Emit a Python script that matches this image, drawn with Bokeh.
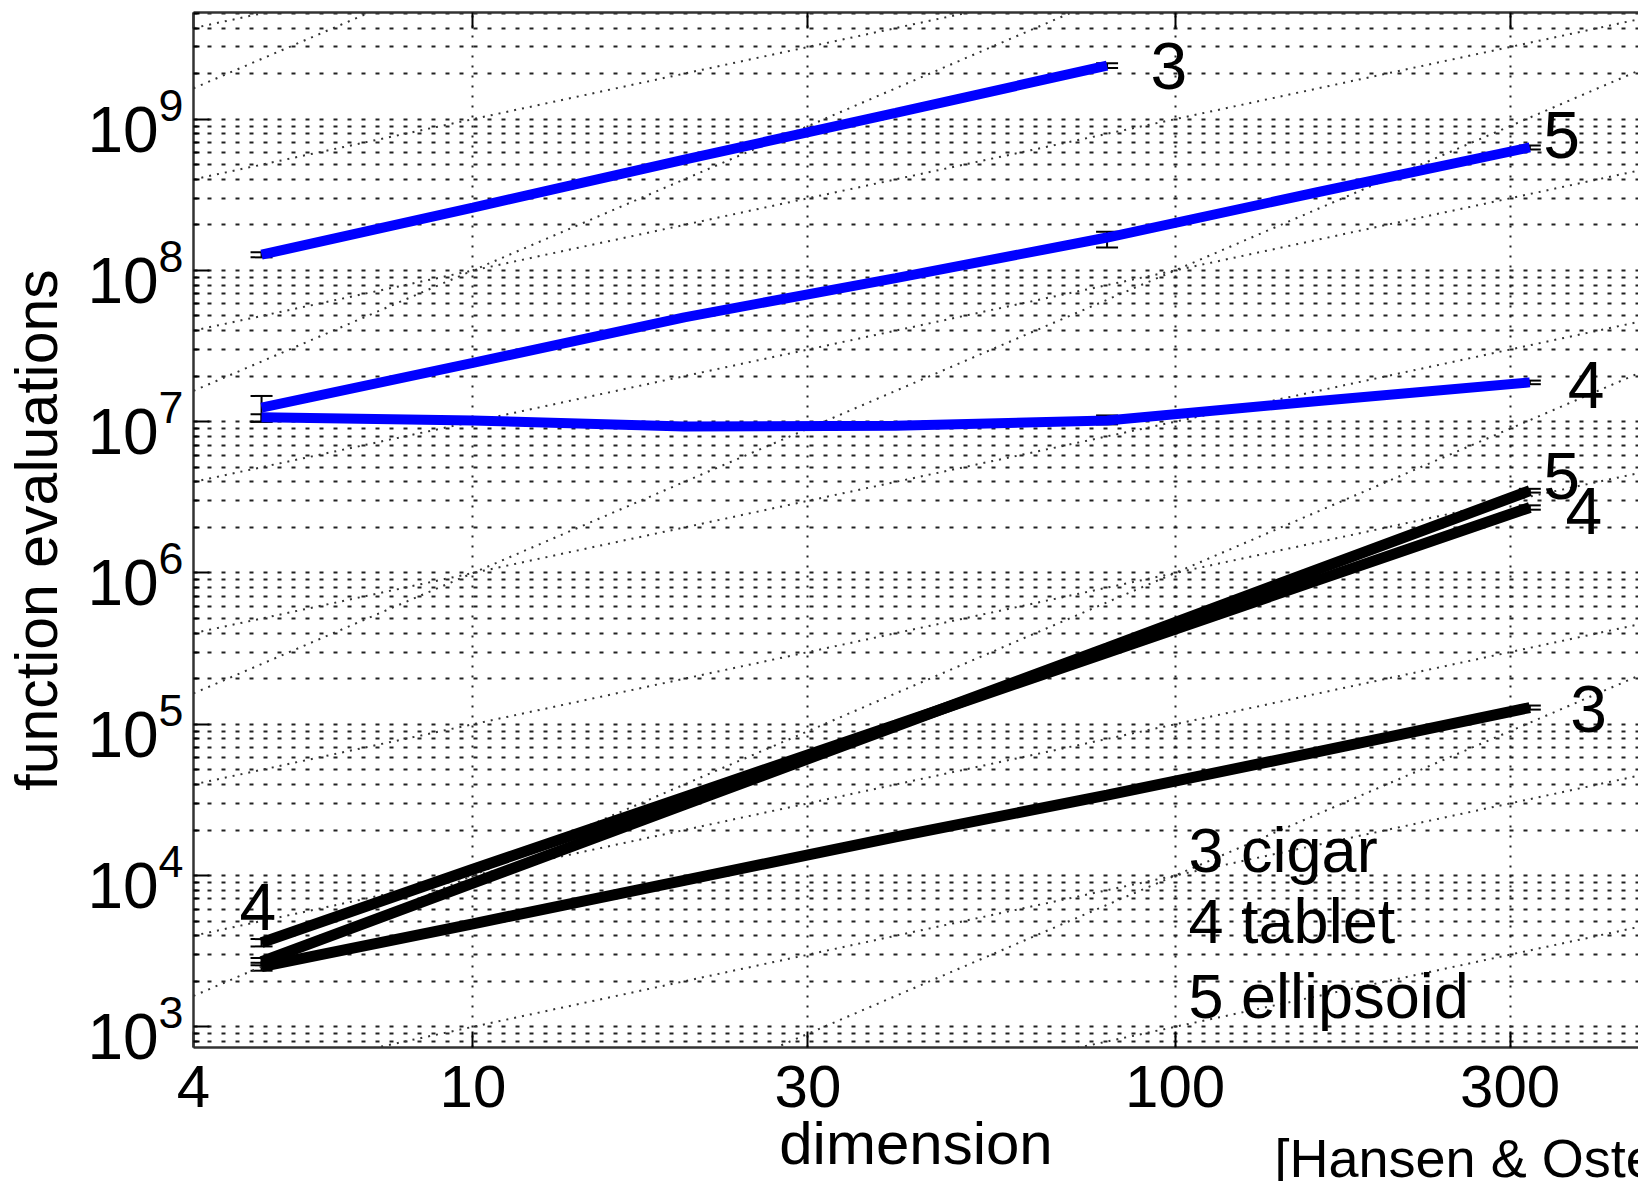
import numpy as np
from bokeh.plotting import figure
from bokeh.models import (LogAxis, FixedTicker, PrintfTickFormatter, Title,
                          ColumnDataSource, Whisker, TeeHead, Range1d,
                          CustomJSTickFormatter)
from bokeh.core.properties import value
from bokeh.embed import file_html
from bokeh.resources import INLINE

# ---------------- data ----------------
dims = [5, 10, 20, 40, 80, 160, 320]
dims_cigar_blue = [5, 10, 20, 40, 80]

blue_cigar = [1.27e8, 2.6e8, 5.4e8, 1.1e9, 2.26e9]
blue_ellipsoid = [1.24e7, 2.45e7, 4.9e7, 8.9e7, 1.65e8, 3.3e8, 6.5e8]
blue_tablet = [1.07e7, 1.02e7, 9.3e6, 9.4e6, 1.02e7, 1.37e7, 1.82e7]

black_cigar = [2.5e3, 4.8e3, 9.3e3, 1.8e4, 3.4e4, 6.6e4, 1.29e5]
black_tablet = [3.6e3, 1.1e4, 3.3e4, 9.9e4, 2.98e5, 9.0e5, 2.71e6]
black_ellipsoid = [2.7e3, 8.9e3, 2.94e4, 9.7e4, 3.2e5, 1.06e6, 3.5e6]

# error bars visible at some points
err_x = [5, 80, 5, 80, 320, 5, 80, 320, 5, 5, 5, 320, 320, 320]
err_lo = [1.22e8, 2.18e9, 1.0e7, 1.42e8, 6.3e8, 1.0e7, 9.6e6, 1.77e7,
          2.35e3, 3.4e3, 2.55e3, 1.25e5, 2.62e6, 3.4e6]
err_hi = [1.32e8, 2.34e9, 1.48e7, 1.8e8, 6.7e8, 1.12e7, 1.1e7, 1.87e7,
          2.65e3, 3.8e3, 2.85e3, 1.33e5, 2.8e6, 3.6e6]

# reference (guide) lines: c*n and c*n^2
lin_coefs = [1e1, 1e2, 1e3, 1e4, 1e5, 1e6, 1e7, 1e8, 1e9]
quad_coefs = [1e0, 1e2, 1e4, 1e6, 1e8]

# axis ticks
x_ticks = [4, 10, 30, 100, 300]
y_ticks = [1e3, 1e4, 1e5, 1e6, 1e7, 1e8, 1e9]
y_minor = [m * 10.0 ** e for e in range(2, 10) for m in range(2, 10)]

# curve labels
curve_labels = ["3", "5", "4", "5", "4", "3", "4"]
curve_label_x = [98, 355, 385, 355, 382, 388, 4.94]
curve_label_y = [2.25e9, 7.9e8, 1.74e7, 4.37e6, 2.58e6, 1.26e5, 6.15e3]

legend_texts = ["3 cigar", "4 tablet", "5 ellipsoid"]
legend_x = [104.5, 104.5, 104.5]
legend_y = [1.48e4, 4.97e3, 1.61e3]

citation = "[Hansen & Ostermeier 2001]"

FONT = "Liberation Sans"

p = figure(width=1638, height=1181, x_axis_type="log", y_axis_type="log",
           x_range=Range1d(4, 457), y_range=Range1d(730, 5.07e9),
           output_backend="svg", toolbar_location=None,
           min_border_left=193, min_border_right=0, min_border_top=12,
           min_border_bottom=134)
p.outline_line_color = None
p.background_fill_color = "white"
p.border_fill_color = "white"

# grids
grid_color = "#222222"
p.xgrid.ticker = FixedTicker(ticks=x_ticks, minor_ticks=[])
p.xgrid.grid_line_color = grid_color
p.xgrid.grid_line_dash = "2 8"
p.xgrid.grid_line_width = 2
p.ygrid.grid_line_color = grid_color
p.ygrid.grid_line_dash = "4 10"
p.ygrid.grid_line_width = 2
p.ygrid.minor_grid_line_color = grid_color
p.ygrid.minor_grid_line_dash = "4 10"
p.ygrid.minor_grid_line_width = 2

# guide lines
xs = np.array([4.0, 500.0])
for c in lin_coefs:
    p.line(xs, c * xs, line_color="#333333", line_width=2, line_dash="2 6")
for c in quad_coefs:
    p.line(xs, c * xs ** 2, line_color="#333333", line_width=2, line_dash="2 6")

# data lines
p.line(dims_cigar_blue, blue_cigar, line_color="#0000ff", line_width=10)
p.line(dims, blue_ellipsoid, line_color="#0000ff", line_width=10)
p.line(dims, blue_tablet, line_color="#0000ff", line_width=10)
p.line(dims, black_cigar, line_color="black", line_width=11)
p.line(dims, black_tablet, line_color="black", line_width=11)
p.line(dims, black_ellipsoid, line_color="black", line_width=11)

esrc = ColumnDataSource(dict(x=err_x, lo=err_lo, hi=err_hi))
p.add_layout(Whisker(source=esrc, base="x", lower="lo", upper="hi",
                     dimension="height", line_color="black", line_width=2,
                     upper_head=TeeHead(size=22, line_color="black", line_width=2),
                     lower_head=TeeHead(size=22, line_color="black", line_width=2)))

# labels on curves
lsrc = ColumnDataSource(dict(x=curve_label_x, y=curve_label_y, t=curve_labels))
p.text(x="x", y="y", text="t", source=lsrc, text_font=value(FONT),
       text_font_size="66px", text_align="center", text_baseline="middle",
       text_color="black")

gsrc = ColumnDataSource(dict(x=legend_x, y=legend_y, t=legend_texts))
p.text(x="x", y="y", text="t", source=gsrc, text_font=value(FONT),
       text_font_size="63px", text_align="left", text_baseline="middle",
       text_color="black")

# axes
xa = p.xaxis[0]
xa.ticker = FixedTicker(ticks=x_ticks, minor_ticks=[])
xa.formatter = PrintfTickFormatter(format="%d")
xa.axis_label = "dimension"
ya = p.yaxis[0]
ya.ticker = FixedTicker(ticks=y_ticks, minor_ticks=y_minor)
ya.axis_label = "function evaluations"

for ax in (xa, ya):
    ax.axis_line_color = "#333333"
    ax.axis_line_width = 2.5
    ax.major_tick_in = 16
    ax.major_tick_out = 0
    ax.major_tick_line_color = "black"
    ax.major_tick_line_width = 2
    ax.major_label_text_font = FONT
    ax.major_label_text_font_size = "64px"
    ax.major_label_text_color = "black"
    ax.axis_label_text_font = FONT
    ax.axis_label_text_font_style = "normal"
    ax.axis_label_text_color = "black"
xa.major_label_text_font_size = "60px"
xa.minor_tick_in = 0
xa.minor_tick_out = 0
ya.minor_tick_in = 6
ya.minor_tick_out = 0
ya.minor_tick_line_color = "black"
ya.minor_tick_line_width = 2
xa.axis_label_text_font_size = "60px"
ya.axis_label_text_font_size = "59px"
xa.major_label_standoff = 18
xa.axis_label_standoff = 0
ya.major_label_standoff = 10
ya.axis_label_standoff = 14

top = LogAxis(ticker=FixedTicker(ticks=x_ticks, minor_ticks=[]),
              formatter=CustomJSTickFormatter(code="return ''"),
              major_label_text_font_size="10px", major_label_standoff=0,
              major_tick_in=16, major_tick_out=0, minor_tick_in=0,
              minor_tick_out=0, axis_line_color="#333333", axis_line_width=2.5,
              major_tick_line_color="black", major_tick_line_width=2)
p.add_layout(top, "above")

# citation, below the frame and cut at the right edge as in the source
p.add_layout(Title(text=citation, align="left", offset=1081, standoff=-104,
                   vertical_align="top", text_font=FONT,
                   text_font_size="54px", text_font_style="normal",
                   text_color="black"), "below")

open("out.html", "w").write(file_html(p, INLINE))
